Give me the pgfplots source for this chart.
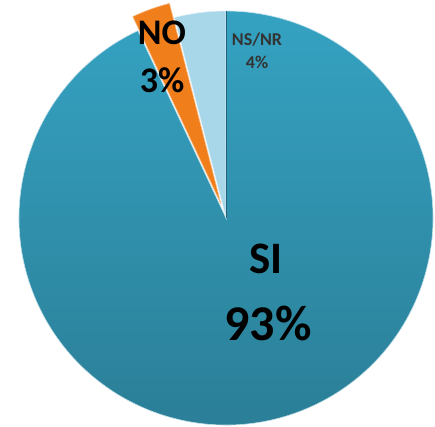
\documentclass[border=0pt]{standalone}
\usepackage{pgfplots}
\usepackage{pgfplotstable}
\usepackage{fontspec}
\setmainfont{Carlito}
\pgfplotsset{compat=1.18}
\definecolor{siC}{HTML}{2F98B6}
\definecolor{siTop}{HTML}{35A2C2}
\definecolor{siBot}{HTML}{2A7C94}
\definecolor{noC}{HTML}{F07E1A}
\definecolor{nsC}{HTML}{A9D7EA}
\pgfplotstableread{
label value
NS/NR 4
NO 3
SI 93
}\piedata
\pgfplotstablegetelem{0}{value}\of\piedata \let\vNS\pgfplotsretval
\pgfplotstablegetelem{1}{value}\of\piedata \let\vNO\pgfplotsretval
\pgfplotstablegetelem{2}{value}\of\piedata \let\vSI\pgfplotsretval
\pgfmathsetmacro{\aA}{90}
\pgfmathsetmacro{\aB}{90+3.6*\vNS}
\pgfmathsetmacro{\aC}{\aB+3.6*\vNO}
\pgfmathsetmacro{\aD}{\aC+3.6*\vSI}
\pgfmathsetmacro{\aNOmid}{(\aB+\aC)/2}
\pgfmathsetmacro{\R}{207}
\pgfmathsetmacro{\ex}{15}
\pgfmathsetmacro{\ox}{\ex*cos(\aNOmid)}
\pgfmathsetmacro{\oy}{\ex*sin(\aNOmid)}
\pgfmathsetmacro{\px}{\ox+\R*cos(\aB)}
\pgfmathsetmacro{\py}{\oy+\R*sin(\aB)}
\pgfmathsetmacro{\sx}{\R*cos(\aC)}
\pgfmathsetmacro{\sy}{\R*sin(\aC)}
\begin{document}
\begin{tikzpicture}
\begin{axis}[
  width=435pt, height=426pt, scale only axis,
  xmin=-226, xmax=209, ymin=-208, ymax=218,
  hide axis, clip=false,
]
\addplot[draw=none] coordinates {(0,0)};
% SI slice
\edef\tmp{\noexpand\shade[overlay, top color=siTop, bottom color=siBot, draw=white!70!siC, line width=0.6pt]
  (axis cs:0,0) -- (axis cs:\sx,\sy) arc[start angle=\aC, end angle=\aD, radius=\R pt] -- cycle;}\tmp
% NS/NR slice
\edef\tmp{\noexpand\fill[overlay, nsC, draw=white!60!nsC, line width=0.6pt]
  (axis cs:0,0) -- (axis cs:0,\R) arc[start angle=\aA, end angle=\aB, radius=\R pt] -- cycle;}\tmp
\edef\tmp{\noexpand\draw[overlay, siBot!80!black, line width=0.5pt] (axis cs:0,0) -- (axis cs:0,\R);}\tmp
% NO slice (exploded)
\edef\tmp{\noexpand\fill[overlay, noC, draw=white!50!noC, line width=0.6pt]
  (axis cs:\ox,\oy) -- (axis cs:\px,\py) arc[start angle=\aB, end angle=\aC, radius=\R pt] -- cycle;}\tmp
% labels
\node[font=\bfseries\fontsize{36}{36}\selectfont, anchor=center] at (axis cs:-64,185) {NO};
\node[font=\bfseries\fontsize{36}{36}\selectfont, anchor=center] at (axis cs:-64,138) {3\%};
\node[font=\bfseries\fontsize{18}{18}\selectfont, text=black!80, anchor=center] at (axis cs:31,178) {NS/NR};
\node[font=\bfseries\fontsize{18}{18}\selectfont, text=black!80, anchor=center] at (axis cs:31,156) {4\%};
\node[font=\bfseries\fontsize{45}{45}\selectfont, anchor=center] at (axis cs:40,-41) {SI};
\node[font=\bfseries\fontsize{50}{50}\selectfont, anchor=center] at (axis cs:42,-105) {93\%};
\end{axis}
\pgfresetboundingbox
\useasboundingbox (current axis.south west) rectangle (current axis.north east);
\end{tikzpicture}
\end{document}
